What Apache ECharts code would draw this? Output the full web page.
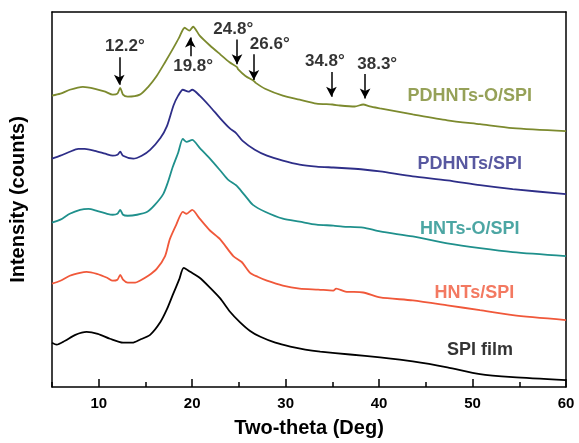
<!DOCTYPE html>
<html>
<head>
<meta charset="utf-8">
<script src="https://cdn.jsdelivr.net/npm/echarts@6/dist/echarts.min.js"></script>
<style>
  html, body { margin: 0; padding: 0; background: #fff; }
  #chart { width: 579px; height: 443px; }
</style>
</head>
<body>
<div id="chart"></div>
<script>
// XRD patterns, stacked, intensity in arbitrary units
const spiFilm = [
  [5, 45], [5.5, 43], [6.4, 47], [7.5, 53], [8.7, 56], [9.9, 54], [11.2, 49], [12.6, 45],
  [13.6, 45], [14.4, 48], [15.5, 53], [16.6, 66], [17.3, 79], [17.9, 93], [18.6, 109],
  [19.1, 121], [19.8, 117], [20.8, 111], [21.9, 101], [23, 90], [24, 77], [25.1, 66],
  [26.2, 57], [27.3, 51], [28.9, 45], [30.5, 41], [32.1, 38], [33.7, 36], [36.9, 33],
  [40.1, 30], [43.6, 26], [47.3, 20], [50.8, 13], [54.3, 10], [60, 7]
];
const hntsSpi = [
  [5, 105], [5.9, 108], [6.9, 113], [8, 116], [8.7, 117], [9.8, 115], [10.9, 111], [11.5, 108],
  [12, 109], [12.3, 114], [12.6, 109], [13.1, 106], [13.9, 106], [14.4, 108], [15.3, 113],
  [16.2, 120], [17.1, 133], [17.6, 150], [18.3, 165], [19, 178], [19.4, 176], [20, 180],
  [20.8, 171], [21.9, 159], [23, 150], [24.4, 133], [25.3, 127], [26.2, 116], [27, 112],
  [28, 108], [29.7, 103], [31.5, 100], [33.5, 99], [35.1, 98], [35.4, 100], [36.4, 97],
  [38.3, 96], [40.1, 91], [43.6, 88], [47.3, 83], [50.8, 78], [54.3, 73], [60, 68]
];
const hntsOSpi = [
  [5, 167], [5.9, 170], [6.9, 176], [8, 180], [8.9, 181], [9.8, 179], [10.9, 176], [11.5, 175],
  [12, 176], [12.3, 180], [12.6, 175], [13.1, 174], [14.1, 175], [15.2, 178], [16, 185],
  [16.9, 196], [17.4, 208], [17.9, 223], [18.5, 238], [19, 252], [19.4, 249], [20, 251],
  [20.8, 243], [21.9, 232], [23, 220], [23.8, 211], [24.7, 205], [24.9, 203], [25.7, 194],
  [26.5, 185], [27.8, 178], [29.7, 171], [31.5, 168], [33.3, 165], [35.1, 164], [36.1, 163],
  [38.3, 162], [40.1, 158], [43.6, 153], [47.3, 146], [50.8, 141], [54.3, 137], [60, 133]
];
const pdhntsSpi = [
  [5, 232], [5.9, 235], [6.9, 239], [7.8, 242], [8.5, 242], [9.6, 240], [10.7, 237], [11.5, 235],
  [12, 236], [12.3, 239], [12.6, 235], [13.7, 232], [14.6, 235], [15.5, 241], [16.6, 253],
  [17.3, 265], [18, 286], [18.5, 296], [19, 302], [19.6, 300], [20, 302], [20.8, 296],
  [21.9, 285], [23, 273], [24, 263], [24.7, 258], [25.4, 250], [26.7, 241], [28, 235],
  [29.7, 230], [31.5, 226], [33.3, 224], [35.1, 223], [36.9, 222], [38.3, 221], [40.1, 219],
  [43.6, 214], [47.3, 210], [50.8, 205], [54.3, 201], [60, 196]
];
const pdhntsOSpi = [
  [5, 296], [5.9, 298], [6.9, 302], [8.3, 305], [9.6, 303], [10.7, 300], [11.5, 297], [12, 298],
  [12.3, 304], [12.6, 297], [13.1, 295], [14.4, 297], [15.3, 305], [16.2, 316], [17.1, 330],
  [17.9, 343], [18.6, 355], [19.2, 365], [19.7, 362], [20.1, 366], [20.8, 357], [21.9, 347],
  [23, 338], [24, 330], [24.8, 325], [24.9, 323], [25.7, 316], [26.6, 311], [26.8, 309],
  [27.8, 303], [29.7, 296], [31.5, 292], [33.3, 288], [35, 287], [35.8, 286], [37.4, 285],
  [38.3, 287], [39, 285], [40.1, 283], [43.6, 277], [47.3, 271], [50.8, 267], [54.3, 263],
  [60, 260]
];

const seriesNames = ['SPI film', 'HNTs/SPI', 'HNTs-O/SPI', 'PDHNTs/SPI', 'PDHNTs-O/SPI'];
const seriesColors = ['#000000', '#f0583a', '#1f908c', '#2e2e88', '#7c8a2e'];
const seriesData = [spiFilm, hntsSpi, hntsOSpi, pdhntsSpi, pdhntsOSpi];
// where each curve's name is written [x, y]
const nameSpots = [[50.8, 38], [50.2, 95], [49.7, 161], [49.7, 227], [49.7, 296]];

// peak markers: text, arrow x, arrow tail y, arrow head y, text x, text y
const peakText = ['12.2°', '19.8°', '24.8°', '26.6°', '34.8°', '38.3°'];
const peakX = [12.2, 19.8, 24.8, 26.6, 34.9, 38.5];
const arrowTail = [335, 336, 353, 338, 320, 318];
const arrowHead = [307, 355, 328, 312, 295, 293];
const textX = [12.8, 20.1, 24.4, 28.3, 34.2, 39.8];
const textY = [346, 326, 363, 348, 331, 328];

const xMajor = [10, 20, 30, 40, 50, 60];

const font = 'Liberation Sans, Arial, sans-serif';
const chart = echarts.init(document.getElementById('chart'));

const series = seriesData.map((d, i) => ({
  name: seriesNames[i],
  type: 'line',
  data: d,
  showSymbol: false,
  smooth: 0.25,
  lineStyle: { color: seriesColors[i], width: 1.8 },
  silent: true
}));

series.push({
  type: 'scatter',
  symbolSize: 0,
  silent: true,
  data: nameSpots.map((p, i) => ({
    value: p,
    label: {
      show: true, position: 'inside', formatter: seriesNames[i],
      color: seriesColors[i], fontSize: 18, fontWeight: 'bold', fontFamily: font
    }
  })),
  z: 5
});

series.push({
  type: 'scatter',
  symbolSize: 0,
  silent: true,
  data: peakText.map((t, i) => ({
    value: [textX[i], textY[i]],
    label: {
      show: true, position: 'inside', formatter: t,
      color: '#000', fontSize: 17, fontWeight: 'bold', fontFamily: font
    }
  })),
  markLine: {
    silent: true,
    symbol: ['none', 'arrow'],
    symbolSize: [8, 10],
    label: { show: false },
    lineStyle: { color: '#000', width: 1.5, type: 'solid' },
    data: peakX.map((x, i) => [
      { coord: [x, arrowTail[i]] },
      { coord: [x, arrowHead[i]] }
    ])
  },
  z: 5
});

const frameLine = { show: true, onZero: false, lineStyle: { color: '#000', width: 1.5 } };

chart.setOption({
  animation: false,
  grid: { left: 52, right: 13, top: 12, bottom: 50 },
  xAxis: [{
    type: 'value', min: 5, max: 60, interval: 5,
    name: 'Two-theta (Deg)', nameLocation: 'middle', nameGap: 31,
    nameTextStyle: { fontSize: 20, fontWeight: 'bold', color: '#000', fontFamily: font },
    axisLine: frameLine,
    axisTick: { show: true, inside: true, length: 5, lineStyle: { color: '#000', width: 1.5 } },
    axisLabel: {
      margin: 9, fontSize: 15, fontWeight: 'bold', color: '#000', fontFamily: font,
      formatter: v => (xMajor.indexOf(v) >= 0 ? String(v) : '')
    },
    splitLine: { show: false }
  }, {
    type: 'value', min: 5, max: 60, position: 'bottom',
    axisLine: { show: false },
    axisTick: { show: true, inside: true, length: 8, customValues: xMajor, lineStyle: { color: '#000', width: 1.5 } },
    axisLabel: { show: false, customValues: xMajor },
    splitLine: { show: false }
  }, {
    type: 'value', min: 5, max: 60, position: 'top',
    axisLine: frameLine,
    axisTick: { show: false },
    axisLabel: { show: false },
    splitLine: { show: false }
  }],
  yAxis: [{
    type: 'value', min: 0, max: 381, position: 'left',
    name: 'Intensity (counts)', nameLocation: 'middle', nameGap: 24,
    nameTextStyle: { fontSize: 20, fontWeight: 'bold', color: '#000', fontFamily: font },
    axisLine: frameLine,
    axisTick: { show: false },
    axisLabel: { show: false },
    splitLine: { show: false }
  }, {
    type: 'value', min: 0, max: 381, position: 'right',
    axisLine: frameLine,
    axisTick: { show: false },
    axisLabel: { show: false },
    splitLine: { show: false }
  }],
  series: series
});
</script>
</body>
</html>
